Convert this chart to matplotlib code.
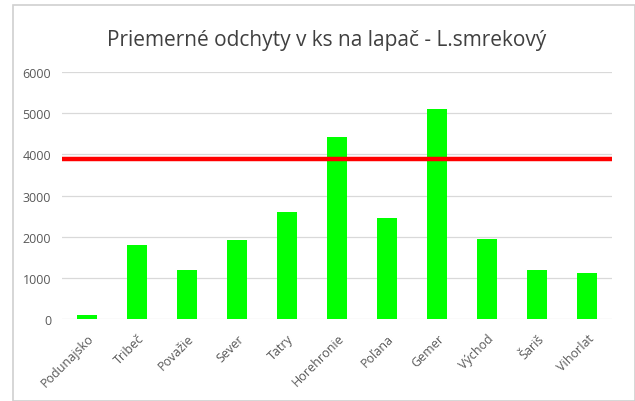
import matplotlib.pyplot as plt
from matplotlib.patches import Rectangle

# categories and values
regions = ['Podunajsko', 'Tribeč', 'Považie', 'Sever', 'Tatry', 'Horehronie',
           'Poľana', 'Gemer', 'Východ', 'Šariš', 'Vihorlat']
catches = [100, 1800, 1190, 1920, 2600, 4420, 2450, 5100, 1940, 1190, 1110]
threshold = 3900
yticks = [0, 1000, 2000, 3000, 4000, 5000, 6000]

plt.rcParams['font.family'] = ['Open Sans', 'DejaVu Sans']

fig = plt.figure(figsize=(6.35, 4.02), dpi=100)
ax = fig.add_axes([0.098, 0.204, 0.866, 0.614])

x = list(range(len(regions)))
ax.bar(x, catches, width=0.4, color='#00ff00', zorder=2)
ax.axhline(threshold, color='#ff0000', linewidth=3.2, zorder=3)

ax.set_xlim(-0.5, len(regions) - 0.5)
ax.set_ylim(0, 6000)
ax.set_yticks(yticks)
ax.set_yticklabels([str(v) for v in yticks], fontsize=9, color='#595959')
ax.set_xticks(x)
ax.set_xticklabels(regions, rotation=45, ha='right', rotation_mode='anchor',
                   fontsize=9, color='#595959')
ax.tick_params(axis='y', length=0, pad=8)
ax.tick_params(axis='x', length=0, pad=9)
ax.grid(axis='y', color='#d9d9d9', linewidth=0.9, zorder=0)
for s in ax.spines.values():
    s.set_visible(False)

fig.text(0.515, 0.9, 'Priemerné odchyty v ks na lapač - L.smrekový',
         ha='center', va='center', fontsize=15, color='#404040')

# light frame around the chart
fig.patches.append(Rectangle((0.02, 0.0), 0.98, 0.985, transform=fig.transFigure,
                             fill=False, edgecolor='#d0d0d0', linewidth=1.2))

fig.savefig('out.png', dpi=100)
